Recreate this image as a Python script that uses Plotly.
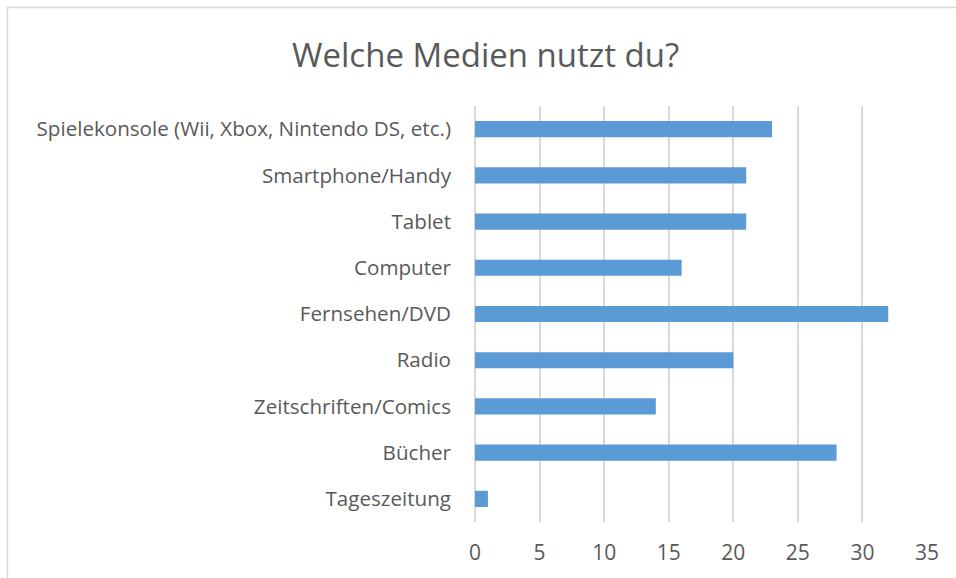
import plotly.graph_objects as go

categories = ["Spielekonsole (Wii, Xbox, Nintendo DS, etc.)", "Smartphone/Handy", "Tablet",
              "Computer", "Fernsehen/DVD", "Radio", "Zeitschriften/Comics", "Bücher", "Tageszeitung"]
values = [23, 21, 21, 16, 32, 20, 14, 28, 1]
tick_vals = [0, 5, 10, 15, 20, 25, 30, 35]

W, H = 956, 578
ml, mr, mt, mb = 475, 29, 106, 56
pw, ph = W - ml - mr, H - mt - mb

fig = go.Figure(go.Bar(
    x=values, y=categories, orientation="h",
    marker=dict(color="#5B9BD5", line=dict(width=0)),
    width=0.35,
))

font = "Open Sans"
fig.update_layout(
    width=W, height=H,
    margin=dict(l=ml, r=mr, t=mt, b=mb),
    paper_bgcolor="white", plot_bgcolor="white",
    title=dict(text="Welche Medien nutzt du?", x=0.508, xanchor="center",
               y=1 - 55 / H, yanchor="middle",
               font=dict(family=font, size=33, color="#595959")),
    font=dict(family=font, color="#595959"),
    showlegend=False,
    xaxis=dict(range=[0, 35], tickvals=tick_vals, showgrid=True, gridcolor="#D9D9D9",
               gridwidth=1.5, zeroline=True, zerolinecolor="#D9D9D9", zerolinewidth=1.5,
               showline=False, ticks="", tickfont=dict(size=21, color="#595959"),
               ticklabelstandoff=16, fixedrange=True),
    yaxis=dict(autorange="reversed", showgrid=False, showline=False, ticks="",
               tickfont=dict(size=20.6, color="#595959"), ticklabelstandoff=23, fixedrange=True),
    shapes=[dict(type="rect", xref="paper", yref="paper",
                 x0=(7.5 - ml) / pw, x1=(W + 5 - ml) / pw,
                 y0=-(mb + 5) / ph, y1=1 + (mt - 7.5) / ph,
                 line=dict(color="#D9D9D9", width=1.5), layer="below")],
)

fig.write_html("out.html", config={"displayModeBar": False},
               post_script="document.body.style.margin='0px';")
